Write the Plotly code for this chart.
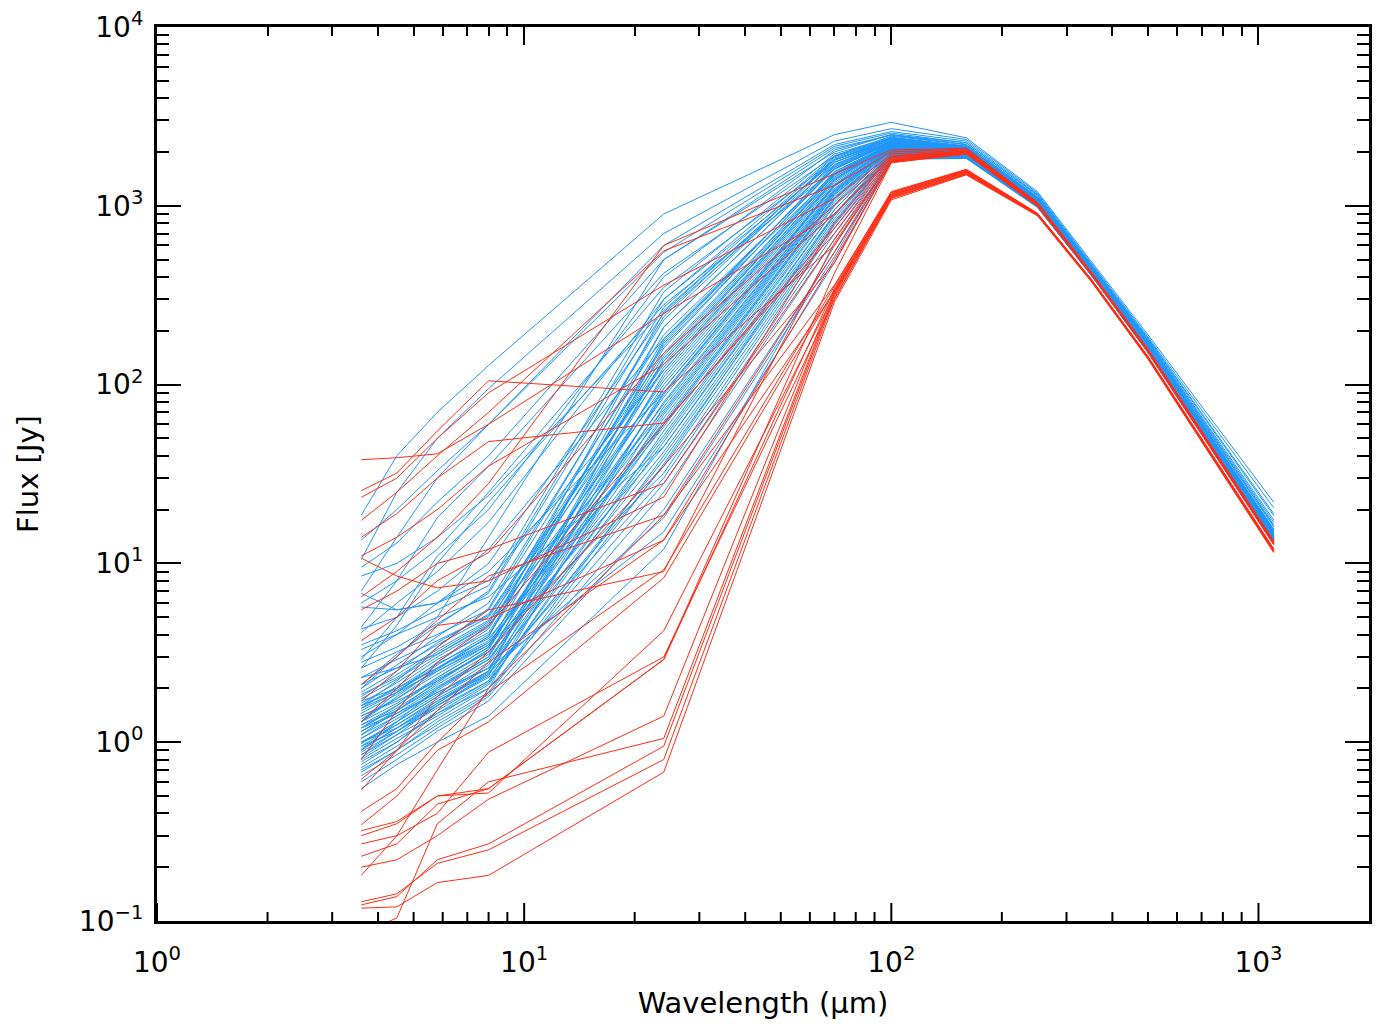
import math
import plotly.graph_objects as go

# Wavelengths (micron)
wavelength = [3.6, 4.5, 5.8, 8.0, 24, 70, 100, 160, 250, 350, 500, 1100]

# Blue SEDs (Jy)
blue_seds = [
    [18.6, 40, 70, 128, 900, 2500, 2930, 2400, 1200, 490, 190, 22],
    [10.5, 25, 50, 95, 700, 2300, 2700, 2350, 1180, 480, 185, 20.5],
    [7.0, 14, 30, 60, 600, 2200, 2600, 2300, 1160, 470, 182, 19],
    [9.5, 13, 22, 40, 500, 2000, 2500, 2250, 1140, 465, 178, 17.5],
    [4.4, 8, 18, 35, 420, 1900, 2450, 2200, 1120, 460, 175, 16.5],
    [6.0, 8, 12, 25, 350, 1800, 2400, 2150, 1100, 455, 172, 16],
    [4.1, 6, 9, 17, 300, 1750, 2350, 2150, 1100, 450, 170, 15.5],
    [2.6, 4.5, 10, 22, 280, 1600, 2300, 2100, 1090, 448, 168, 15.2],
    [3.0, 4, 6, 10, 250, 1700, 2300, 2100, 1080, 445, 166, 15],
    [5.7, 5.5, 6, 8, 120, 1400, 2250, 2080, 1070, 440, 165, 14.8],
    [1.2, 1.6, 2.3, 3.4, 210, 1750, 2300, 2080, 1070, 440, 164, 14.5],
    [2.3, 2.6, 3.1, 4.5, 95, 1300, 2150, 2000, 1040, 430, 160, 13.9],
    [0.9, 1.3, 2.0, 3.0, 160, 1650, 2250, 2050, 1060, 437, 163, 14.2],
    [1.6, 2.2, 3.4, 5.6, 240, 1850, 2380, 2120, 1085, 446, 167, 15.0],
    [1.1, 1.4, 1.9, 2.6, 60, 1100, 2080, 1960, 1020, 425, 157, 13.6],
    [1.9, 2.5, 3.6, 5.2, 130, 1500, 2200, 2040, 1050, 434, 162, 14.1],
    [0.75, 1.0, 1.5, 2.2, 75, 1200, 2100, 1980, 1025, 427, 158, 13.7],
    [1.4, 1.7, 2.2, 3.2, 45, 900, 2000, 1930, 1010, 420, 155, 13.4],
    [2.1, 3.1, 4.5, 7.0, 300, 1900, 2400, 2150, 1095, 450, 168, 15.3],
    [1.0, 1.2, 1.6, 2.3, 35, 800, 1950, 1900, 1000, 418, 154, 13.2],
    [1.3, 1.9, 2.8, 4.3, 170, 1700, 2280, 2070, 1065, 439, 164, 14.4],
    [0.85, 1.1, 1.45, 2.0, 28, 700, 1900, 1880, 995, 415, 153, 13.1],
    [1.7, 2.0, 2.6, 3.7, 85, 1250, 2130, 1990, 1035, 429, 159, 13.8],
    [1.25, 1.5, 2.1, 3.1, 110, 1400, 2180, 2020, 1045, 432, 160, 14.0],
    [0.95, 1.25, 1.75, 2.5, 50, 1000, 2050, 1950, 1015, 423, 156, 13.5],
    [2.6, 3.2, 4.0, 5.5, 190, 1600, 2250, 2060, 1060, 438, 163, 14.3],
    [1.15, 1.45, 2.0, 2.9, 65, 1150, 2090, 1970, 1022, 426, 157, 13.6],
    [1.55, 2.05, 2.9, 4.1, 145, 1550, 2220, 2040, 1052, 435, 161, 14.1],
    [0.7, 0.9, 1.3, 1.9, 40, 850, 1980, 1910, 1005, 419, 155, 13.3],
    [1.05, 1.35, 1.85, 2.8, 90, 1300, 2140, 2000, 1038, 430, 159, 13.9],
    [1.8, 2.4, 3.3, 4.8, 120, 1450, 2190, 2030, 1048, 433, 161, 14.0],
    [0.8, 1.05, 1.4, 2.1, 55, 1050, 2060, 1955, 1018, 424, 156, 13.5],
    [1.35, 1.75, 2.5, 3.6, 70, 1180, 2110, 1985, 1030, 428, 158, 13.7],
    [2.0, 2.7, 3.9, 6.0, 230, 1800, 2330, 2100, 1078, 443, 166, 14.7],
    [0.9, 1.2, 1.7, 2.4, 30, 750, 1930, 1890, 998, 416, 154, 13.2],
    [1.2, 1.55, 2.15, 3.3, 135, 1480, 2200, 2030, 1050, 434, 161, 14.1],
    [1.6, 1.95, 2.6, 3.6, 58, 1080, 2070, 1960, 1020, 425, 157, 13.6],
    [0.65, 0.85, 1.2, 1.8, 25, 650, 1880, 1870, 990, 413, 152, 13.0],
    [1.45, 1.85, 2.55, 3.9, 180, 1650, 2260, 2060, 1058, 437, 162, 14.3],
    [1.0, 1.3, 1.8, 2.7, 80, 1230, 2120, 1990, 1032, 429, 158, 13.8],
    [2.3, 2.9, 3.7, 5.1, 150, 1550, 2230, 2050, 1055, 436, 162, 14.2],
    [0.78, 1.0, 1.45, 2.15, 48, 950, 2020, 1940, 1012, 422, 156, 13.4],
    [1.3, 1.65, 2.3, 3.4, 100, 1350, 2160, 2010, 1040, 431, 159, 13.9],
    [1.1, 1.5, 2.2, 3.3, 125, 1450, 2180, 2020, 1044, 432, 160, 14.0],
    [0.95, 1.15, 1.55, 2.2, 38, 820, 1960, 1900, 1002, 418, 154, 13.3],
    [1.75, 2.25, 3.1, 4.6, 210, 1750, 2300, 2090, 1072, 441, 165, 14.6],
    [1.25, 1.6, 2.25, 3.2, 62, 1120, 2080, 1965, 1024, 426, 157, 13.6],
    [0.6, 0.8, 1.15, 1.7, 20, 550, 1850, 1860, 985, 411, 152, 12.9],
    [1.5, 1.9, 2.7, 4.0, 105, 1380, 2170, 2015, 1042, 431, 160, 14.0],
    [0.88, 1.15, 1.6, 2.4, 68, 1160, 2100, 1975, 1027, 427, 158, 13.7],
    [2.8, 3.4, 4.6, 6.8, 270, 1880, 2380, 2130, 1090, 448, 167, 15.1],
    [1.15, 1.5, 2.05, 3.0, 88, 1280, 2140, 1995, 1036, 429, 159, 13.8],
    [1.65, 2.15, 3.0, 4.4, 165, 1620, 2240, 2055, 1057, 436, 162, 14.2],
    [0.98, 1.3, 1.8, 2.6, 42, 880, 1990, 1920, 1008, 420, 155, 13.3],
    [1.4, 1.75, 2.4, 3.5, 78, 1220, 2110, 1985, 1031, 428, 158, 13.7],
    [0.82, 1.1, 1.6, 2.35, 115, 1420, 2170, 2020, 1043, 432, 160, 14.0],
    [2.1, 2.6, 3.5, 5.0, 135, 1500, 2210, 2035, 1050, 434, 161, 14.1],
    [1.05, 1.4, 1.95, 2.9, 52, 1020, 2040, 1950, 1016, 423, 156, 13.5],
    [1.55, 1.9, 2.5, 3.5, 32, 780, 1940, 1895, 1000, 417, 154, 13.2],
    [0.72, 0.95, 1.35, 2.0, 95, 1320, 2150, 2005, 1038, 430, 159, 13.9],
    [1.3, 1.8, 2.6, 3.9, 255, 1820, 2340, 2110, 1080, 444, 166, 14.8],
    [0.92, 1.2, 1.65, 2.45, 18, 520, 1830, 1850, 982, 410, 151, 12.8],
    [1.2, 1.45, 1.9, 2.6, 15, 480, 1820, 1840, 980, 409, 151, 12.7],
    [1.85, 2.3, 3.2, 4.7, 72, 1200, 2110, 1980, 1030, 428, 158, 13.7],
    [0.55, 0.75, 1.0, 1.4, 12, 600, 1870, 1870, 988, 412, 152, 12.9],
    [3.5, 4.2, 5.5, 7.5, 330, 1950, 2420, 2160, 1100, 452, 169, 15.5],
    [0.68, 0.9, 1.25, 1.85, 36, 900, 2000, 1925, 1008, 420, 155, 13.3],
    [1.0, 1.25, 1.7, 2.5, 140, 1520, 2210, 2035, 1050, 434, 161, 14.1],
    [1.6, 2.0, 2.75, 3.8, 60, 1100, 2070, 1960, 1020, 425, 157, 13.6],
    [0.85, 1.15, 1.65, 2.5, 175, 1680, 2270, 2065, 1062, 438, 163, 14.3],
    [4.3, 5.0, 7.0, 12, 180, 1500, 2200, 2040, 1050, 436, 162, 14.2],
    [8.5, 10, 14, 24, 260, 1800, 2350, 2120, 1085, 446, 167, 15.0],
    [6.8, 5.5, 6.0, 9, 90, 1300, 2150, 2000, 1036, 430, 159, 13.9],
    [2.9, 5, 11, 20, 400, 2050, 2500, 2200, 1110, 458, 173, 16.2],
    [3.3, 4.0, 5.0, 6.5, 45, 950, 2030, 1945, 1012, 421, 156, 13.4],
    [13.5, 20, 33, 60, 550, 2150, 2550, 2250, 1150, 468, 180, 18.5],
    [2.0, 3.0, 5.0, 14, 500, 2100, 2480, 2200, 1120, 460, 176, 17],
]

# Red SEDs (Jy)
red_seds = [
    [0.118, 0.12, 0.164, 0.18, 0.68, 290, 1080, 1490, 880, 378, 139, 11.5],
    [0.128, 0.142, 0.21, 0.25, 0.80, 305, 1100, 1500, 885, 380, 140, 11.6],
    [0.123, 0.137, 0.22, 0.27, 0.95, 315, 1120, 1520, 890, 382, 141, 11.7],
    [0.085, 0.104, 0.35, 0.6, 1.05, 325, 1150, 1540, 895, 385, 142, 11.8],
    [0.20, 0.22, 0.30, 0.48, 1.4, 335, 1170, 1560, 900, 387, 143, 11.9],
    [0.23, 0.27, 0.45, 0.55, 2.9, 345, 1190, 1580, 905, 388, 143, 12.0],
    [0.27, 0.30, 0.40, 0.88, 3.0, 300, 1110, 1510, 888, 381, 140, 11.6],
    [0.32, 0.36, 0.50, 0.52, 4.2, 320, 1140, 1550, 895, 384, 142, 11.8],
    [0.345, 0.5, 0.9, 1.3, 8.3, 340, 1160, 1570, 900, 386, 142, 11.9],
    [0.41, 0.55, 1.0, 1.9, 9.2, 355, 1200, 1600, 910, 390, 144, 12.1],
    [0.62, 0.9, 1.5, 2.8, 13.5, 330, 1130, 1540, 893, 383, 141, 11.8],
    [0.18, 0.3, 0.7, 2.0, 18.6, 360, 1180, 1590, 905, 389, 143, 12.0],
    [38, 39, 41, 60, 250, 900, 1850, 2000, 1020, 420, 155, 13.0],
    [25.5, 32, 55, 105, 91, 600, 1800, 1980, 1010, 418, 154, 12.9],
    [23.4, 30, 50, 90, 360, 1100, 1950, 2050, 1035, 424, 156, 13.2],
    [17.4, 25, 40, 70, 560, 1300, 2000, 2080, 1040, 426, 157, 13.3],
    [14, 19, 30, 48, 61, 700, 1820, 1990, 1015, 419, 155, 13.0],
    [10.7, 8.5, 7.3, 8.0, 23.5, 800, 1880, 2010, 1020, 421, 155, 13.1],
    [5.5, 7, 10, 12, 28, 650, 1780, 1970, 1005, 416, 153, 12.9],
    [3.7, 5, 8, 11.5, 150, 1000, 1900, 2030, 1028, 422, 156, 13.1],
    [2.1, 3, 4.8, 8.5, 18.6, 550, 1760, 1960, 1000, 415, 153, 12.8],
    [1.7, 2.5, 4.5, 4.9, 13.5, 500, 1750, 1950, 998, 414, 152, 12.8],
    [1.3, 2.0, 3.4, 5.5, 9.0, 620, 1790, 1975, 1008, 417, 154, 12.9],
    [0.8, 1.5, 2.8, 4.5, 60, 750, 1850, 1995, 1012, 418, 154, 13.0],
    [0.54, 0.9, 1.8, 3.2, 35, 480, 1770, 1965, 1003, 416, 153, 12.9],
    [0.3, 0.35, 0.5, 0.55, 2.9, 420, 1740, 1950, 998, 414, 152, 12.8],
    [6.5, 9, 14, 28, 600, 1500, 2050, 2100, 1045, 428, 158, 13.4],
    [11, 14, 20, 35, 130, 900, 1900, 2020, 1025, 421, 155, 13.1],
]

x_major = [1, 10, 100, 1000]
x_major_text = ["10<sup>0</sup>", "10<sup>1</sup>", "10<sup>2</sup>", "10<sup>3</sup>"]
y_major = [0.1, 1, 10, 100, 1000, 10000]
y_major_text = ["10<sup>−1</sup>", "10<sup>0</sup>", "10<sup>1</sup>", "10<sup>2</sup>",
                "10<sup>3</sup>", "10<sup>4</sup>"]

BLUE = "rgb(30,150,250)"
RED = "rgb(255,45,20)"

fig = go.Figure()
for sed in blue_seds:
    fig.add_trace(go.Scatter(x=wavelength, y=sed, mode="lines",
                             line=dict(color=BLUE, width=1),
                             showlegend=False, hoverinfo="skip"))
for sed in red_seds:
    fig.add_trace(go.Scatter(x=wavelength, y=sed, mode="lines",
                             line=dict(color=RED, width=1),
                             showlegend=False, hoverinfo="skip"))

x_minor = [m * d for d in [1, 10, 100] for m in range(2, 10)]
y_minor = [m * d for d in [0.1, 1, 10, 100, 1000] for m in range(2, 10)]

FONT = "DejaVu Sans, sans-serif"
XRANGE = [0, math.log10(2000)]
YRANGE = [-1, 4]
PLOT_H = 1036 - 27 - 115
PX_PER_DECADE = PLOT_H / (YRANGE[1] - YRANGE[0])

# inward tick marks along the bottom edge, drawn on the data scales
y_base = 10 ** YRANGE[0]
y_major_top = 10 ** (YRANGE[0] + 18 / PX_PER_DECADE)
y_minor_top = 10 ** (YRANGE[0] + 9 / PX_PER_DECADE)
tick_x, tick_y = [], []
for v in x_major:
    tick_x += [v, v, None]
    tick_y += [y_base, y_major_top, None]
for v in x_minor:
    tick_x += [v, v, None]
    tick_y += [y_base, y_minor_top, None]
fig.add_trace(go.Scatter(x=tick_x, y=tick_y, mode="lines",
                         line=dict(color="black", width=2),
                         connectgaps=False,
                         showlegend=False, hoverinfo="skip"))

# invisible helper so the top tick axis (x2) is drawn
fig.add_trace(go.Scatter(x=wavelength, y=red_seds[0], mode="lines",
                         line=dict(color="rgba(0,0,0,0)", width=0),
                         xaxis="x2", yaxis="y",
                         showlegend=False, hoverinfo="skip"))

fig.update_layout(
    width=1388, height=1036,
    margin=dict(l=157, r=19, t=27, b=115),
    paper_bgcolor="white", plot_bgcolor="white",
    font=dict(family=FONT, color="black"),
    xaxis=dict(
        type="log", range=XRANGE, automargin=False,
        showgrid=False, zeroline=False,
        showline=True, linecolor="black", linewidth=3, mirror=True,
        tickmode="array", tickvals=x_major, ticktext=x_major_text,
        ticks="", tickfont=dict(size=28, family=FONT),
        ticklabelstandoff=14,
        title=dict(text="Wavelength (μm)", font=dict(size=29, family=FONT), standoff=16),
    ),
    xaxis2=dict(
        type="log", range=XRANGE, automargin=False,
        overlaying="x", side="top", anchor="y",
        showgrid=False, zeroline=False, showticklabels=False,
        showline=True, linecolor="black", linewidth=3, mirror=False,
        tickmode="array", tickvals=x_major,
        ticks="inside", ticklen=18, tickwidth=2, tickcolor="black",
        minor=dict(tickmode="array", tickvals=x_minor, ticks="inside",
                   ticklen=9, tickwidth=2, tickcolor="black", showgrid=False),
    ),
    yaxis=dict(
        type="log", range=YRANGE, automargin=False,
        showgrid=False, zeroline=False,
        showline=True, linecolor="black", linewidth=3, mirror="ticks",
        tickmode="array", tickvals=y_major, ticktext=y_major_text,
        ticks="inside", ticklen=24, tickwidth=2, tickcolor="black",
        minor=dict(tickmode="array", tickvals=y_minor, ticks="inside",
                   ticklen=12, tickwidth=2, tickcolor="black", showgrid=False),
        tickfont=dict(size=28, family=FONT),
        ticklabelstandoff=5,
        title=dict(text="Flux [Jy]", font=dict(size=29, family=FONT), standoff=32),
    ),
)

fig.write_html("out.html")
